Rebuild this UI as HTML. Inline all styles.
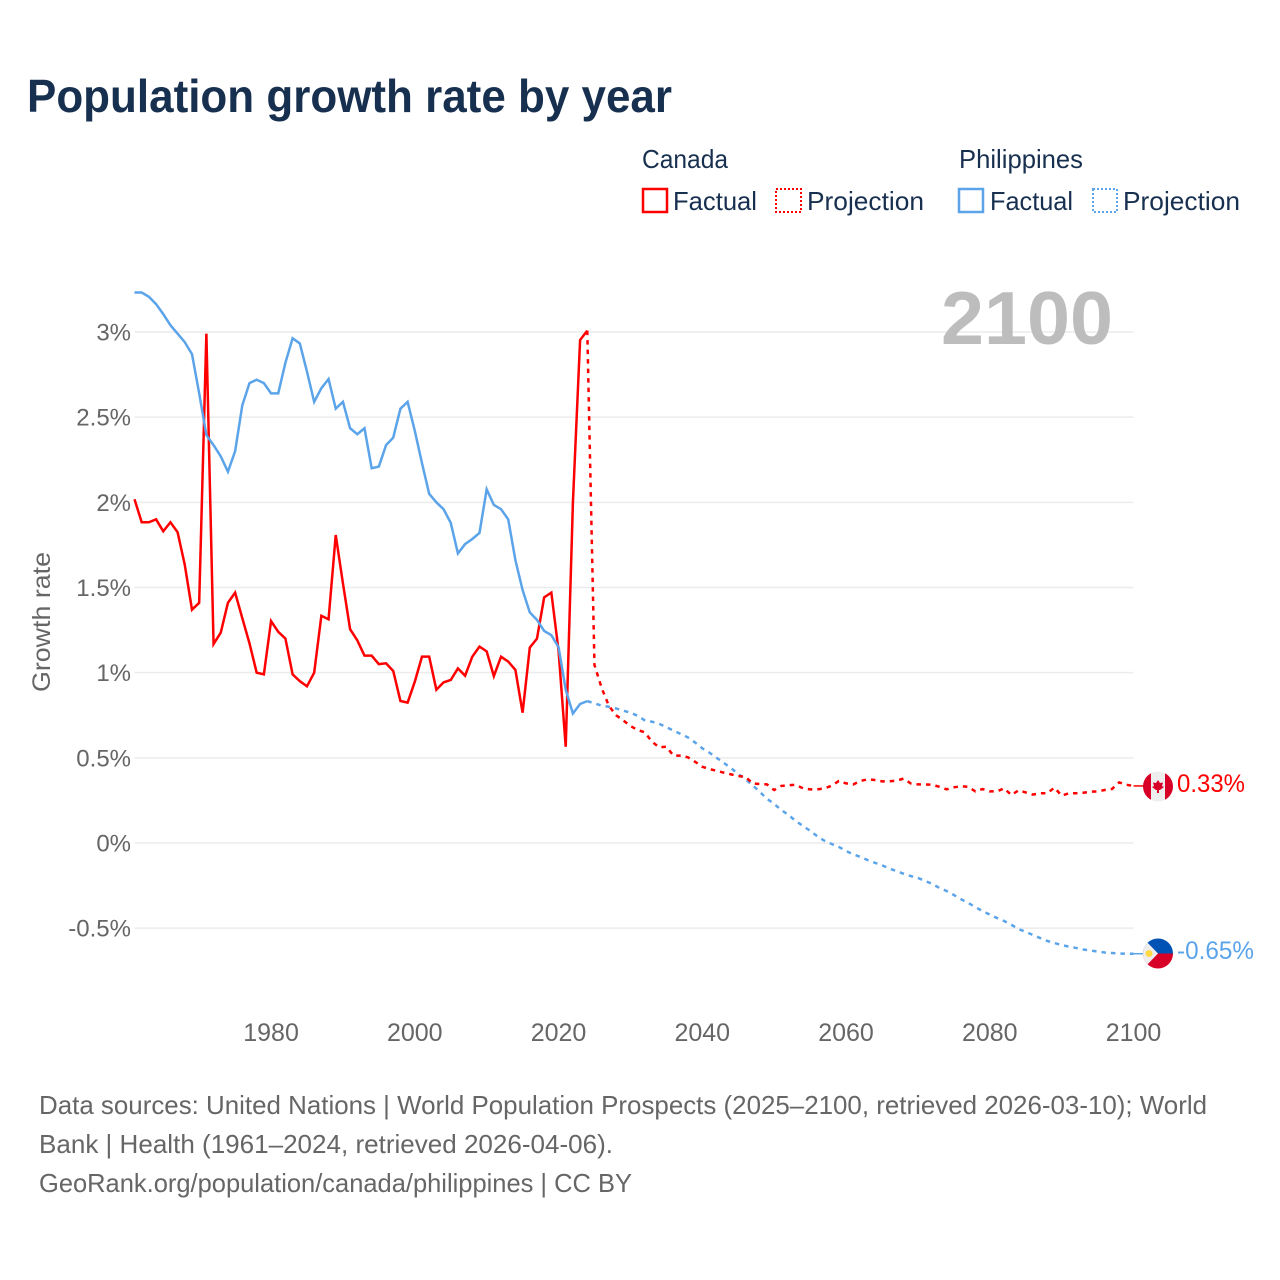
<!DOCTYPE html>
<html lang="en">
<head>
<meta charset="utf-8">
<title>Population growth rate by year</title>
<style>
  html, body { margin: 0; padding: 0; background: #fff; }
  #chart-root { display: block; width: 1280px; height: 1280px; }
  text { font-family: "Liberation Sans", "DejaVu Sans", sans-serif; }
</style>
</head>
<body>
<svg id="chart-root" xmlns="http://www.w3.org/2000/svg" width="1280" height="1280" viewBox="0 0 1280 1280">
  <rect x="0" y="0" width="1280" height="1280" fill="#fff"/>
  <text x="27" y="112" font-size="46" font-weight="700" fill="#18304f" textLength="645" lengthAdjust="spacingAndGlyphs">Population growth rate by year</text>

  <g font-size="26" fill="#18304f">
    <text x="642" y="168" textLength="86" lengthAdjust="spacingAndGlyphs">Canada</text>
    <text x="959" y="168" textLength="124" lengthAdjust="spacingAndGlyphs">Philippines</text>
    <g>
      <rect x="643" y="189" width="24" height="23" fill="none" stroke="#ff0000" stroke-width="2.5"/>
      <text x="673" y="210" textLength="84" lengthAdjust="spacingAndGlyphs">Factual</text>
    </g>
    <g>
      <rect x="776" y="189" width="25" height="23" fill="none" stroke="#ff0000" stroke-width="2" stroke-dasharray="2 2"/>
      <text x="807" y="210" textLength="117" lengthAdjust="spacingAndGlyphs">Projection</text>
    </g>
    <g>
      <rect x="959" y="189" width="24" height="23" fill="none" stroke="#5ba4ea" stroke-width="2.5"/>
      <text x="990" y="210" textLength="83" lengthAdjust="spacingAndGlyphs">Factual</text>
    </g>
    <g>
      <rect x="1093" y="189" width="24" height="23" fill="none" stroke="#5ba4ea" stroke-width="2" stroke-dasharray="2 2"/>
      <text x="1123" y="210" textLength="117" lengthAdjust="spacingAndGlyphs">Projection</text>
    </g>
  </g>

  <g id="grid-layer"></g>
  <g id="y-tick-layer"></g>
  <g id="x-tick-layer"></g>

  <text x="941" y="344" font-size="75" font-weight="700" fill="#bdbdbd" textLength="172" lengthAdjust="spacingAndGlyphs">2100</text>

  <text transform="translate(50,622) rotate(-90)" text-anchor="middle" font-size="25" fill="#666" textLength="140" lengthAdjust="spacingAndGlyphs">Growth rate</text>

  <g id="series-layer"></g>

  <g>
    <clipPath id="clip-ca"><circle cx="1158" cy="786.5" r="15"/></clipPath>
    <g clip-path="url(#clip-ca)">
      <rect x="1143" y="771" width="30" height="31" fill="#eeeeee"/>
      <rect x="1143" y="771" width="8" height="31" fill="#d80027"/>
      <rect x="1165" y="771" width="8" height="31" fill="#d80027"/>
      <polygon points="1158,780 1160,783 1163,782.5 1162,786 1164,787 1160,790 1159,790 1159,793 1157,793 1157,790 1156,790 1152,787 1154,786 1153,782.5 1156,783" fill="#d80027"/>
    </g>
  </g>
  <text x="1177" y="792" font-size="25" fill="#ff0000" textLength="68" lengthAdjust="spacingAndGlyphs">0.33%</text>

  <g>
    <clipPath id="clip-ph"><circle cx="1158" cy="953.5" r="15"/></clipPath>
    <g clip-path="url(#clip-ph)">
      <rect x="1143" y="938" width="30" height="16" fill="#0052b4"/>
      <rect x="1143" y="953.5" width="30" height="16" fill="#d80027"/>
      <polygon points="1143,938 1158,953.5 1143,969" fill="#eeeeee"/>
      <circle cx="1149" cy="953.5" r="3.5" fill="#ffda44"/>
    </g>
  </g>
  <text x="1177" y="959" font-size="25" fill="#5ba4ea" textLength="77" lengthAdjust="spacingAndGlyphs">-0.65%</text>

  <g font-size="26" fill="#666">
    <text x="39" y="1114" textLength="1168" lengthAdjust="spacingAndGlyphs">Data sources: United Nations | World Population Prospects (2025–2100, retrieved 2026-03-10); World</text>
    <text x="39" y="1153" textLength="574" lengthAdjust="spacingAndGlyphs">Bank | Health (1961–2024, retrieved 2026-04-06).</text>
    <text x="39" y="1192" textLength="593" lengthAdjust="spacingAndGlyphs">GeoRank.org/population/canada/philippines | CC BY</text>
  </g>
</svg>

<script>
const factualStartYear = 1961;
const projectionStartYear = 2024;
const yTickValues = [-0.5, 0, 0.5, 1, 1.5, 2, 2.5, 3];
const yTickLabels = ['-0.5%', '0%', '0.5%', '1%', '1.5%', '2%', '2.5%', '3%'];
const xTickYears = [1980, 2000, 2020, 2040, 2060, 2080, 2100];

const canadaFactual = [
  2.018, 1.883, 1.883, 1.90, 1.83, 1.883, 1.824, 1.632, 1.37, 1.41,
  2.99, 1.168, 1.235, 1.41, 1.47, 1.32, 1.172, 1.00, 0.99, 1.303,
  1.24, 1.20, 0.99, 0.95, 0.92, 1.00, 1.334, 1.313, 1.808, 1.525,
  1.255, 1.19, 1.10, 1.10, 1.05, 1.055, 1.01, 0.834, 0.824, 0.947,
  1.094, 1.094, 0.90, 0.943, 0.957, 1.025, 0.982, 1.094, 1.153, 1.125,
  0.98, 1.094, 1.065, 1.016, 0.765, 1.147, 1.20, 1.442, 1.47, 1.13,
  0.565, 2.0, 2.953, 3.008
];
const canadaProjection = [
  3.008, 1.045, 0.91, 0.806, 0.75, 0.72, 0.687, 0.663, 0.65, 0.595,
  0.562, 0.565, 0.513, 0.513, 0.503, 0.477, 0.448, 0.434, 0.424, 0.413,
  0.403, 0.393, 0.389, 0.35, 0.346, 0.344, 0.311, 0.335, 0.339, 0.342,
  0.321, 0.315, 0.315, 0.321, 0.336, 0.364, 0.35, 0.344, 0.364, 0.374,
  0.37, 0.362, 0.362, 0.366, 0.378, 0.35, 0.344, 0.344, 0.342, 0.33,
  0.315, 0.327, 0.333, 0.33, 0.303, 0.317, 0.303, 0.303, 0.321, 0.282,
  0.309, 0.297, 0.284, 0.292, 0.292, 0.325, 0.278, 0.292, 0.292, 0.295,
  0.301, 0.303, 0.311, 0.317, 0.356, 0.342, 0.335
];
const philippinesFactual = [
  3.232, 3.232, 3.207, 3.164, 3.105, 3.04, 2.99, 2.94, 2.87, 2.64,
  2.395, 2.336, 2.27, 2.18, 2.30, 2.57, 2.70, 2.72, 2.70, 2.64,
  2.64, 2.82, 2.963, 2.933, 2.767, 2.59, 2.67, 2.724, 2.55, 2.59,
  2.435, 2.40, 2.435, 2.20, 2.21, 2.336, 2.38, 2.55, 2.59, 2.42,
  2.23, 2.05, 2.00, 1.96, 1.88, 1.70, 1.755, 1.785, 1.82, 2.076,
  1.985, 1.96, 1.90, 1.66, 1.485, 1.354, 1.31, 1.245, 1.22, 1.15,
  0.90, 0.76, 0.816, 0.833
];
const philippinesProjection = [
  0.833, 0.82, 0.806, 0.80, 0.79, 0.777, 0.765, 0.747, 0.72, 0.712,
  0.70, 0.68, 0.66, 0.64, 0.62, 0.59, 0.556, 0.53, 0.50, 0.47,
  0.44, 0.405, 0.374, 0.34, 0.30, 0.26, 0.229, 0.194, 0.164, 0.13,
  0.10, 0.072, 0.04, 0.013, -0.006, -0.023, -0.047, -0.066, -0.082, -0.10,
  -0.116, -0.131, -0.149, -0.165, -0.18, -0.194, -0.205, -0.223, -0.24, -0.264,
  -0.282, -0.305, -0.33, -0.352, -0.376, -0.40, -0.42, -0.44, -0.458, -0.48,
  -0.505, -0.522, -0.54, -0.558, -0.575, -0.587, -0.60, -0.608, -0.616, -0.625,
  -0.631, -0.637, -0.643, -0.646, -0.649, -0.65, -0.65
];

const SVG_NS = 'http://www.w3.org/2000/svg';
const plotLeft = 134.5;
const plotRight = 1133.5;

function xScale(year) {
  return plotLeft + (year - 1961) * (plotRight - plotLeft) / (2100 - 1961);
}
function yScale(value) {
  return 843 - value * 170.33;
}
function linePath(values, startYear) {
  return values.map(function (v, i) {
    return (i ? 'L' : 'M') + xScale(startYear + i).toFixed(2) + ' ' + yScale(v).toFixed(2);
  }).join(' ');
}

const gridLayer = document.getElementById('grid-layer');
const yTickLayer = document.getElementById('y-tick-layer');
const xTickLayer = document.getElementById('x-tick-layer');
const seriesLayer = document.getElementById('series-layer');

yTickValues.forEach(function (value, i) {
  const line = document.createElementNS(SVG_NS, 'line');
  
  
  line.setAttribute('x1', plotLeft);
  line.setAttribute('x2', plotRight);
  line.setAttribute('y1', yScale(value));
  line.setAttribute('y2', yScale(value));
  line.setAttribute('stroke', '#ececec');
  line.setAttribute('stroke-width', '1.5');
  gridLayer.appendChild(line);

  const label = document.createElementNS(SVG_NS, 'text');
  
  
  label.setAttribute('x', '131');
  label.setAttribute('y', yScale(value) + 8.5);
  label.setAttribute('text-anchor', 'end');
  label.setAttribute('font-size', '24');
  label.setAttribute('fill', '#666');
  label.textContent = yTickLabels[i];
  yTickLayer.appendChild(label);
});

xTickYears.forEach(function (year) {
  const label = document.createElementNS(SVG_NS, 'text');
  
  
  label.setAttribute('x', xScale(year));
  label.setAttribute('y', '1041');
  label.setAttribute('text-anchor', 'middle');
  label.setAttribute('font-size', '25');
  label.setAttribute('fill', '#666');
  label.textContent = String(year);
  xTickLayer.appendChild(label);
});

const philippinesProjectionLine = document.createElementNS(SVG_NS, 'path');


philippinesProjectionLine.setAttribute('d', linePath(philippinesProjection, projectionStartYear));
philippinesProjectionLine.setAttribute('fill', 'none');
philippinesProjectionLine.setAttribute('stroke', '#5ba4ea');
philippinesProjectionLine.setAttribute('stroke-width', '2.5');
philippinesProjectionLine.setAttribute('stroke-dasharray', '4.5 5');
seriesLayer.appendChild(philippinesProjectionLine);

const canadaProjectionLine = document.createElementNS(SVG_NS, 'path');


canadaProjectionLine.setAttribute('d', linePath(canadaProjection, projectionStartYear));
canadaProjectionLine.setAttribute('fill', 'none');
canadaProjectionLine.setAttribute('stroke', '#ff0000');
canadaProjectionLine.setAttribute('stroke-width', '2.5');
canadaProjectionLine.setAttribute('stroke-dasharray', '4.5 5');
seriesLayer.appendChild(canadaProjectionLine);

const canadaFactualLine = document.createElementNS(SVG_NS, 'path');


canadaFactualLine.setAttribute('d', linePath(canadaFactual, factualStartYear));
canadaFactualLine.setAttribute('fill', 'none');
canadaFactualLine.setAttribute('stroke', '#ff0000');
canadaFactualLine.setAttribute('stroke-width', '2.5');
canadaFactualLine.setAttribute('stroke-linejoin', 'miter');
seriesLayer.appendChild(canadaFactualLine);

const philippinesFactualLine = document.createElementNS(SVG_NS, 'path');


philippinesFactualLine.setAttribute('d', linePath(philippinesFactual, factualStartYear));
philippinesFactualLine.setAttribute('fill', 'none');
philippinesFactualLine.setAttribute('stroke', '#5ba4ea');
philippinesFactualLine.setAttribute('stroke-width', '2.5');
seriesLayer.appendChild(philippinesFactualLine);

const canadaConnector = document.createElementNS(SVG_NS, 'line');


canadaConnector.setAttribute('x1', xScale(2100));
canadaConnector.setAttribute('x2', '1143');
canadaConnector.setAttribute('y1', yScale(canadaProjection[canadaProjection.length - 1]));
canadaConnector.setAttribute('y2', yScale(canadaProjection[canadaProjection.length - 1]));
canadaConnector.setAttribute('stroke', '#ff0000');
canadaConnector.setAttribute('stroke-width', '1.5');
seriesLayer.appendChild(canadaConnector);

const philippinesConnector = document.createElementNS(SVG_NS, 'line');


philippinesConnector.setAttribute('x1', xScale(2100));
philippinesConnector.setAttribute('x2', '1143');
philippinesConnector.setAttribute('y1', yScale(philippinesProjection[philippinesProjection.length - 1]));
philippinesConnector.setAttribute('y2', yScale(philippinesProjection[philippinesProjection.length - 1]));
philippinesConnector.setAttribute('stroke', '#5ba4ea');
philippinesConnector.setAttribute('stroke-width', '1.5');
seriesLayer.appendChild(philippinesConnector);
</script>
</body>
</html>
